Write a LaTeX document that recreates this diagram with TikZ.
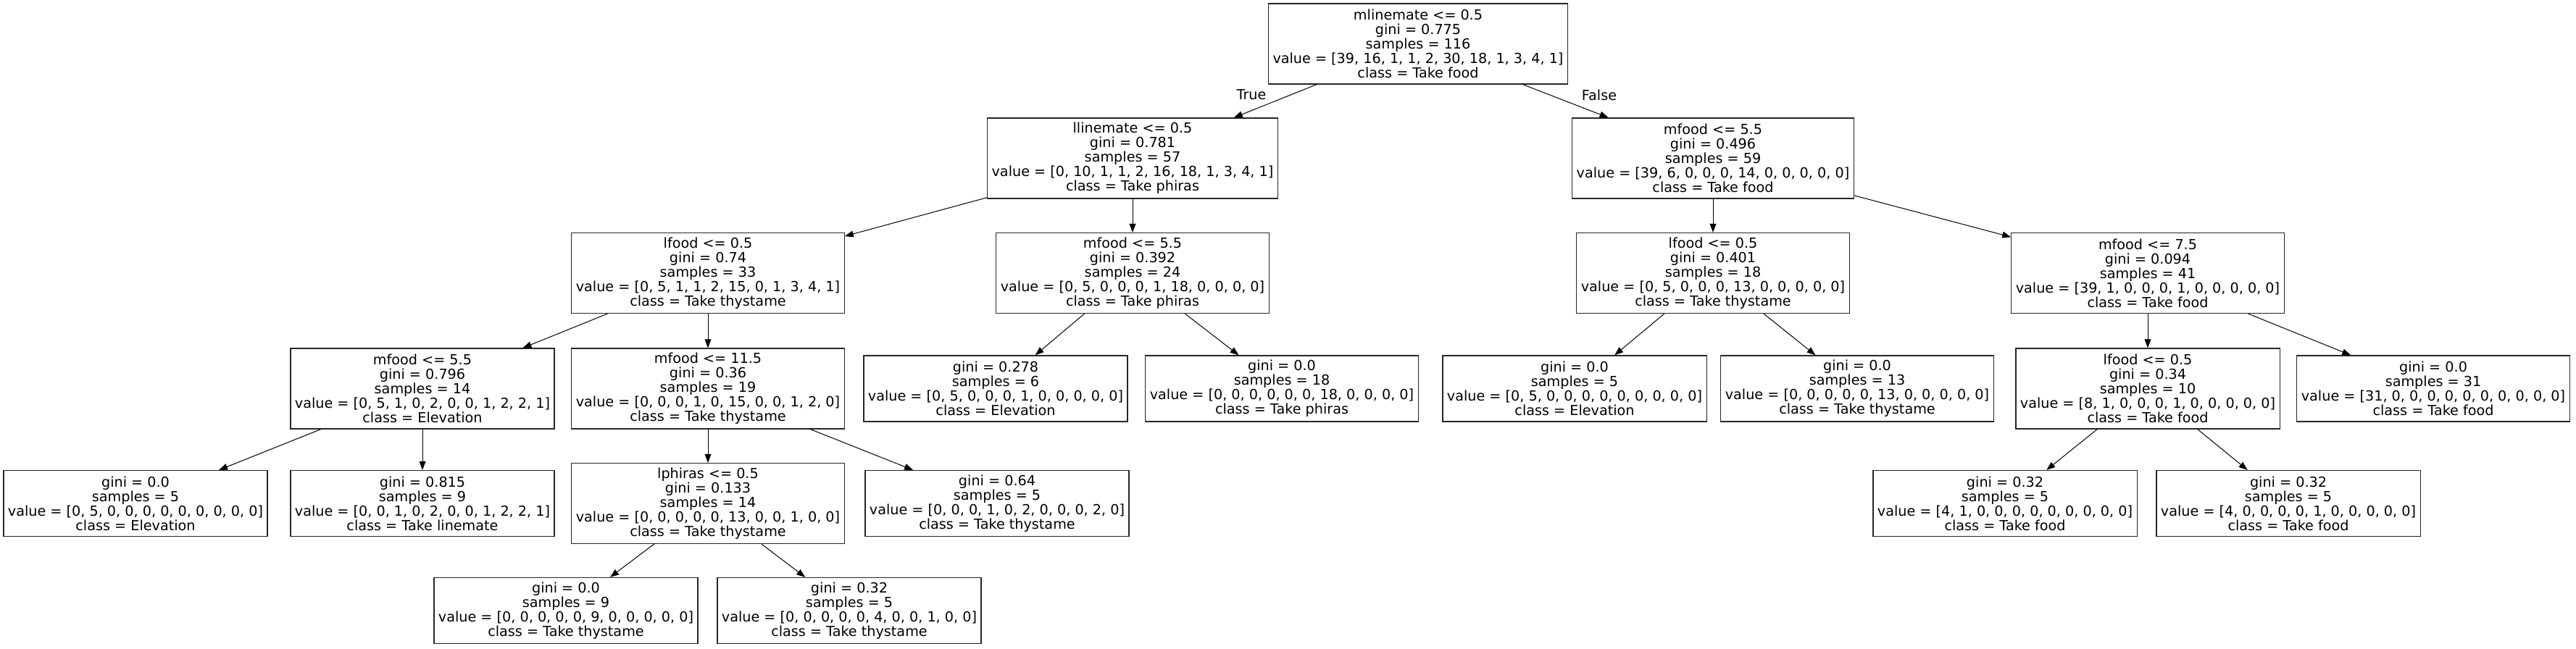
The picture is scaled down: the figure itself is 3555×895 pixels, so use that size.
\documentclass[tikz,border=0pt]{standalone}
\usepackage{fontspec}
\setmainfont{DejaVu Sans}
\usetikzlibrary{arrows.meta}

\begin{document}
\begin{tikzpicture}[
    x=0.5pt, y=-0.5pt,
    box/.style   = {rectangle, draw=black!85, line width=0.6pt, align=center,
                    inner xsep=3pt, inner ysep=0pt, font=\fontsize{9.6}{10}\selectfont},
    split/.style = {box, minimum height=55.5pt},
    leaf/.style  = {box, minimum height=45.5pt},
    arr/.style   = {-{Triangle[length=6pt, width=4.4pt]}, line width=0.5pt},
    lbl/.style   = {font=\fontsize{9.6}{10}\selectfont, inner sep=0pt},
]
\useasboundingbox (0,0) rectangle (3555,895);

%% ---- Rank positions (y-coords, px) ----
\def\yA{60.5}
\def\yB{218.5}
\def\yC{377}
\def\yD{536.5}
\def\yE{695}
\def\yF{843}

%% ---- Rank 0 ----
\node[split] (root) at (1957,\yA) {mlinemate <= 0.5\\gini = 0.775\\samples = 116\\value = [39, 16, 1, 1, 2, 30, 18, 1, 3, 4, 1]\\class = Take food};

%% ---- Rank 1 ----
\node[split] (T) at (1563,\yB) {llinemate <= 0.5\\gini = 0.781\\samples = 57\\value = [0, 10, 1, 1, 2, 16, 18, 1, 3, 4, 1]\\class = Take phiras};
\node[split] (F) at (2364,\yB) {mfood <= 5.5\\gini = 0.496\\samples = 59\\value = [39, 6, 0, 0, 0, 14, 0, 0, 0, 0, 0]\\class = Take food};

%% ---- Rank 2 ----
\node[split] (TT) at (977,\yC)  {lfood <= 0.5\\gini = 0.74\\samples = 33\\value = [0, 5, 1, 1, 2, 15, 0, 1, 3, 4, 1]\\class = Take thystame};
\node[split] (TF) at (1563,\yC) {mfood <= 5.5\\gini = 0.392\\samples = 24\\value = [0, 5, 0, 0, 0, 1, 18, 0, 0, 0, 0]\\class = Take phiras};
\node[split] (FT) at (2364,\yC) {lfood <= 0.5\\gini = 0.401\\samples = 18\\value = [0, 5, 0, 0, 0, 13, 0, 0, 0, 0, 0]\\class = Take thystame};
\node[split] (FF) at (2964,\yC) {mfood <= 7.5\\gini = 0.094\\samples = 41\\value = [39, 1, 0, 0, 0, 1, 0, 0, 0, 0, 0]\\class = Take food};

%% ---- Rank 3 ----
\node[split] (TTT) at (583,\yD)  {mfood <= 5.5\\gini = 0.796\\samples = 14\\value = [0, 5, 1, 0, 2, 0, 0, 1, 2, 2, 1]\\class = Elevation};
\node[split] (TTF) at (977,\yD)  {mfood <= 11.5\\gini = 0.36\\samples = 19\\value = [0, 0, 0, 1, 0, 15, 0, 0, 1, 2, 0]\\class = Take thystame};
\node[leaf]  (TFT) at (1374,\yD) {gini = 0.278\\samples = 6\\value = [0, 5, 0, 0, 0, 1, 0, 0, 0, 0, 0]\\class = Elevation};
\node[leaf]  (TFF) at (1769,\yD) {gini = 0.0\\samples = 18\\value = [0, 0, 0, 0, 0, 0, 18, 0, 0, 0, 0]\\class = Take phiras};
\node[leaf]  (FTT) at (2173,\yD) {gini = 0.0\\samples = 5\\value = [0, 5, 0, 0, 0, 0, 0, 0, 0, 0, 0]\\class = Elevation};
\node[leaf]  (FTF) at (2563,\yD) {gini = 0.0\\samples = 13\\value = [0, 0, 0, 0, 0, 13, 0, 0, 0, 0, 0]\\class = Take thystame};
\node[split] (FFT) at (2964,\yD) {lfood <= 0.5\\gini = 0.34\\samples = 10\\value = [8, 1, 0, 0, 0, 1, 0, 0, 0, 0, 0]\\class = Take food};
\node[leaf]  (FFF) at (3358,\yD) {gini = 0.0\\samples = 31\\value = [31, 0, 0, 0, 0, 0, 0, 0, 0, 0, 0]\\class = Take food};

%% ---- Rank 4 ----
\node[leaf]  (TTTT) at (187,\yE)  {gini = 0.0\\samples = 5\\value = [0, 5, 0, 0, 0, 0, 0, 0, 0, 0, 0]\\class = Elevation};
\node[leaf]  (TTTF) at (583,\yE)  {gini = 0.815\\samples = 9\\value = [0, 0, 1, 0, 2, 0, 0, 1, 2, 2, 1]\\class = Take linemate};
\node[split] (TTFT) at (977,\yE)  {lphiras <= 0.5\\gini = 0.133\\samples = 14\\value = [0, 0, 0, 0, 0, 13, 0, 0, 1, 0, 0]\\class = Take thystame};
\node[leaf]  (TTFF) at (1376,\yE) {gini = 0.64\\samples = 5\\value = [0, 0, 0, 1, 0, 2, 0, 0, 0, 2, 0]\\class = Take thystame};
\node[leaf]  (FFTT) at (2767,\yE) {gini = 0.32\\samples = 5\\value = [4, 1, 0, 0, 0, 0, 0, 0, 0, 0, 0]\\class = Take food};
\node[leaf]  (FFTF) at (3158,\yE) {gini = 0.32\\samples = 5\\value = [4, 0, 0, 0, 0, 1, 0, 0, 0, 0, 0]\\class = Take food};

%% ---- Rank 5 ----
\node[leaf] (TTFTT) at (781,\yF)  {gini = 0.0\\samples = 9\\value = [0, 0, 0, 0, 0, 9, 0, 0, 0, 0, 0]\\class = Take thystame};
\node[leaf] (TTFTF) at (1172,\yF) {gini = 0.32\\samples = 5\\value = [0, 0, 0, 0, 0, 4, 0, 0, 1, 0, 0]\\class = Take thystame};

%% ---- Edges ----
\foreach \p/\c in {root/T, root/F, T/TT, T/TF, F/FT, F/FF,
                   TT/TTT, TT/TTF, TF/TFT, TF/TFF, FT/FTT, FT/FTF, FF/FFT, FF/FFF,
                   TTT/TTTT, TTT/TTTF, TTF/TTFT, TTF/TTFF, FFT/FFTT, FFT/FFTF,
                   TTFT/TTFTT, TTFT/TTFTF}{
    \draw[arr] (\p) -- (\c);
}

%% ---- Branch labels ----
\node[lbl] (true)  at (1727,131) {True};
\node[lbl] (false) at (2207,131) {False};

\end{tikzpicture}
\end{document}
